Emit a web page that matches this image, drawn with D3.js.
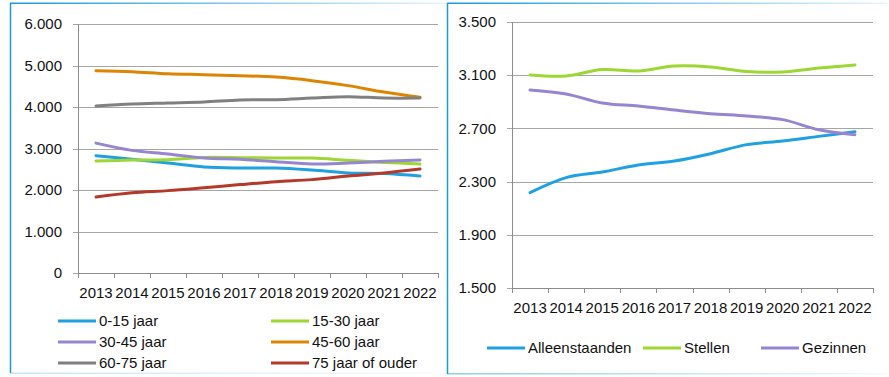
<!DOCTYPE html>
<html><head><meta charset="utf-8">
<script src="https://cdn.jsdelivr.net/npm/d3@7/dist/d3.min.js"></script>
<style>
html,body{margin:0;padding:0;background:#fff;}
svg text{font-family:"Liberation Sans Narrow","Liberation Sans",Arial,sans-serif;fill:#111;}
</style></head>
<body><svg id="c" width="889" height="377"></svg>
<script>
const years = ["2013","2014","2015","2016","2017","2018","2019","2020","2021","2022"];

// Left chart: age groups
const age0_15   = [2825,2740,2650,2555,2530,2530,2480,2410,2395,2335];
const age15_30  = [2700,2720,2730,2785,2780,2770,2770,2715,2665,2625];
const age30_45  = [3130,2955,2870,2770,2740,2680,2625,2650,2690,2720];
const age45_60  = [4875,4850,4800,4780,4755,4720,4635,4515,4360,4235];
const age60_75  = [4025,4070,4095,4120,4170,4175,4215,4250,4215,4215];
const age75plus = [1830,1935,1985,2055,2130,2200,2250,2335,2410,2505];
const leftTicks = [0,1000,2000,3000,4000,5000,6000];

// Right chart: household types
const alleenstaanden = [2217,2330,2372,2425,2455,2510,2578,2605,2640,2675];
const stellen        = [3101,3094,3142,3132,3169,3162,3127,3124,3154,3177];
const gezinnen       = [2989,2959,2891,2868,2838,2811,2793,2766,2690,2653];
const rightTicks = [1500,1900,2300,2700,3100,3500];

const C = {blue:"#1fa0e0", green:"#9ed634", purple:"#9685d0", orange:"#dd8500", gray:"#808080", red:"#b5382a"};

const leftSeries = [
  {name:"0-15 jaar", vals:age0_15, color:C.blue},
  {name:"15-30 jaar", vals:age15_30, color:C.green},
  {name:"30-45 jaar", vals:age30_45, color:C.purple},
  {name:"45-60 jaar", vals:age45_60, color:C.orange},
  {name:"60-75 jaar", vals:age60_75, color:C.gray},
  {name:"75 jaar of ouder", vals:age75plus, color:C.red}
];
const rightSeries = [
  {name:"Alleenstaanden", vals:alleenstaanden, color:C.blue},
  {name:"Stellen", vals:stellen, color:C.green},
  {name:"Gezinnen", vals:gezinnen, color:C.purple}
];

const svg = d3.select("#c");
const fmt = v => d3.format(",")(v).replace(/,/g,".");

// frames with gradient borders
const defs = svg.append("defs");
function grad(id){
  const g = defs.append("linearGradient").attr("id",id).attr("x1","0%").attr("x2","100%");
  g.append("stop").attr("offset","0%").attr("stop-color","#1a9ad8");
  g.append("stop").attr("offset","100%").attr("stop-color","#e6f4fb");
}
grad("gTop");
const fr = svg.append("g");
// left panel
fr.append("rect").attr("x",10).attr("y",3).attr("width",437).height;
fr.append("line").attr("x1",10.5).attr("x2",10.5).attr("y1",3).attr("y2",373).attr("stroke","#1a9ad8").attr("stroke-width",1.5);
fr.append("rect").attr("x",10).attr("y",2.5).attr("width",437).attr("height",1.5).attr("fill","url(#gTop)");
fr.append("rect").attr("x",10).attr("y",372.5).attr("width",437).attr("height",1.5).attr("fill","url(#gTop)").attr("opacity",0.25);
// right panel
fr.append("line").attr("x1",447.5).attr("x2",447.5).attr("y1",3).attr("y2",374).attr("stroke","#1a9ad8").attr("stroke-width",1.5);
fr.append("rect").attr("x",447).attr("y",2.5).attr("width",440).attr("height",1.5).attr("fill","url(#gTop)");
fr.append("rect").attr("x",447).attr("y",373).attr("width",440).attr("height",1.5).attr("fill","url(#gTop)").attr("opacity",0.5);

function drawChart(cfg){
  const g = svg.append("g");
  const x = d3.scaleBand().domain(years).range([cfg.x0,cfg.x1]);
  const y = d3.scaleLinear().domain(cfg.domain).range([cfg.yb,cfg.yt]);
  // gridlines
  g.append("g").selectAll("line").data(cfg.ticks).join("line")
    .attr("x1",cfg.x0-5).attr("x2",cfg.x1)
    .attr("y1",d=>Math.round(y(d))+0.5).attr("y2",d=>Math.round(y(d))+0.5)
    .attr("stroke","#a6a6a6").attr("stroke-width",1);
  // y axis line
  g.append("line").attr("x1",cfg.x0+0.5).attr("x2",cfg.x0+0.5).attr("y1",cfg.yt).attr("y2",cfg.yb)
    .attr("stroke","#8c8c8c");
  // y labels
  g.append("g").selectAll("text").data(cfg.ticks).join("text")
    .attr("x",cfg.x0-16).attr("y",d=>y(d)).attr("dy","0.35em")
    .attr("text-anchor","end").attr("font-size",15).text(fmt);
  // x axis
  const xa = d3.axisBottom(x).tickSize(0).tickPadding(0);
  g.append("line").attr("x1",cfg.x0).attr("x2",cfg.x1).attr("y1",Math.round(cfg.yb)+0.5).attr("y2",Math.round(cfg.yb)+0.5).attr("stroke","#8c8c8c");
  const bounds = years.map(d=>x(d)).concat([cfg.x1]);
  g.append("g").selectAll("line").data(bounds).join("line")
    .attr("x1",d=>Math.round(d)+0.5).attr("x2",d=>Math.round(d)+0.5)
    .attr("y1",cfg.yb).attr("y2",cfg.yb+5).attr("stroke","#8c8c8c");
  g.append("g").selectAll("text").data(years).join("text")
    .attr("x",d=>x(d)+x.bandwidth()/2).attr("y",cfg.yb+20).attr("dy","0.35em")
    .attr("text-anchor","middle").attr("font-size",15).text(d=>d);
  // lines
  const line = d3.line().x((d,i)=>x(years[i])+x.bandwidth()/2).y(d=>y(d)).curve(d3.curveCatmullRom.alpha(0.5));
  g.append("g").selectAll("path").data(cfg.series).join("path")
    .attr("d",d=>line(d.vals)).attr("fill","none")
    .attr("stroke",d=>d.color).attr("stroke-width",3).attr("stroke-linecap","round");
  // legend
  const lg = g.append("g");
  cfg.series.forEach((s,i)=>{
    const p = cfg.legendPos(i);
    lg.append("line").attr("x1",p[0]).attr("x2",p[0]+38).attr("y1",p[1]).attr("y2",p[1])
      .attr("stroke",s.color).attr("stroke-width",3);
    lg.append("text").attr("x",p[0]+41).attr("y",p[1]).attr("dy","0.35em").attr("font-size",15).text(s.name);
  });
}

drawChart({x0:78, x1:438, yt:24, yb:273, domain:[0,6000], ticks:leftTicks, series:leftSeries,
  legendPos:i=>[i%2===0?58:271, 321+Math.floor(i/2)*21]});
const rx = [487,643,761];
drawChart({x0:512, x1:873, yt:22, yb:288, domain:[1500,3500], ticks:rightTicks, series:rightSeries,
  legendPos:i=>[rx[i],348]});
</script></body></html>
